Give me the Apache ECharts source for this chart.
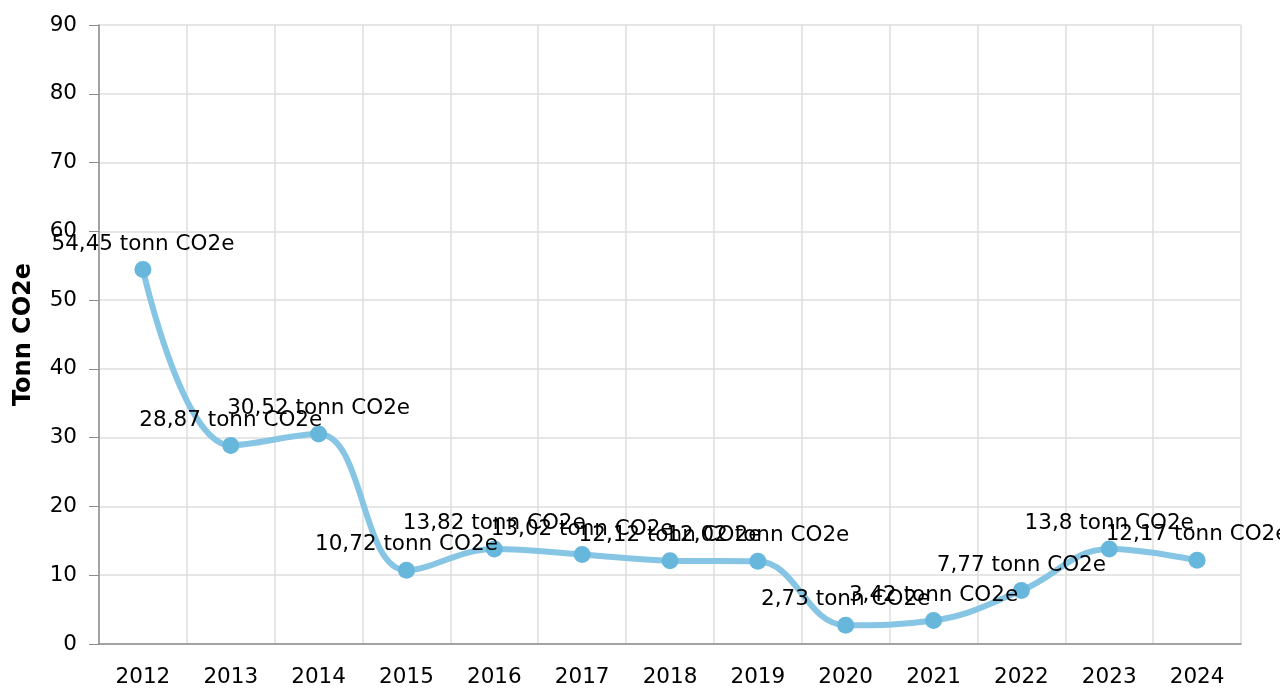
<!DOCTYPE html>
<html>
<head>
<meta charset="utf-8">
<script src="https://cdn.jsdelivr.net/npm/echarts@6/dist/echarts.min.js"></script>
<style>
  html, body { margin: 0; padding: 0; background: #fff; }
  #chart { width: 1280px; height: 690px; }
</style>
</head>
<body>
<div id="chart"></div>
<script>
const years = ['2012', '2013', '2014', '2015', '2016', '2017', '2018', '2019', '2020', '2021', '2022', '2023', '2024'];
const emissions = [54.45, 28.87, 30.52, 10.72, 13.82, 13.02, 12.12, 12.02, 2.73, 3.42, 7.77, 13.8, 12.17];
const unit = 'tonn CO2e';

const chart = echarts.init(document.getElementById('chart'));

const fontFamily = '"DejaVu Sans", Verdana, sans-serif';

chart.setOption({
  animation: false,
  textStyle: { fontFamily: fontFamily },
  grid: { left: 99, right: 39, top: 25, bottom: 46 },
  xAxis: {
    type: 'category',
    data: years,
    boundaryGap: true,
    axisLine: { lineStyle: { color: '#8c8c8c', width: 1.5 } },
    axisTick: { alignWithLabel: true, length: 9, lineStyle: { color: '#8c8c8c' } },
    axisLabel: { color: '#000', fontSize: 21.5, margin: 22, fontFamily: fontFamily },
    splitLine: { show: true, lineStyle: { color: '#dedede', width: 1.5 } }
  },
  yAxis: {
    type: 'value',
    min: 0,
    max: 90,
    interval: 10,
    name: 'Tonn CO2e',
    nameLocation: 'middle',
    nameGap: 63,
    nameTextStyle: { fontSize: 24, fontWeight: 'bold', color: '#000', fontFamily: fontFamily },
    axisLine: { show: true, lineStyle: { color: '#8c8c8c', width: 1.5 } },
    axisTick: { show: true, length: 10, lineStyle: { color: '#8c8c8c' } },
    axisLabel: { color: '#000', fontSize: 21.5, margin: 22, fontFamily: fontFamily },
    splitLine: { show: true, lineStyle: { color: '#dedede', width: 1.5 } }
  },
  series: [
    {
      type: 'line',
      data: emissions,
      smooth: 0.4,
      symbol: 'circle',
      symbolSize: 17,
      lineStyle: { color: '#86c5e4', width: 6 },
      itemStyle: { color: '#67b7dc' },
      label: {
        show: true,
        position: 'top',
        distance: 6,
        fontSize: 21.5,
        color: '#000',
        fontFamily: fontFamily,
        formatter: (p) => String(p.value).replace('.', ',') + ' ' + unit
      }
    }
  ]
});
</script>
</body>
</html>
